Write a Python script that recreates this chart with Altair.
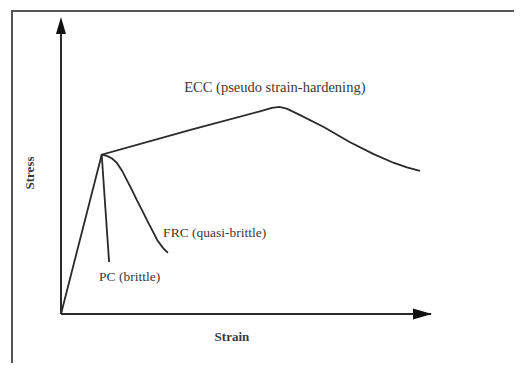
import altair as alt
import pandas as pd

# Curve data (arbitrary strain / stress units)
ecc_strain = [0.0, 1.1, 3.5, 5.4, 5.7, 5.9, 6.1, 6.45, 7.1, 7.8, 8.45, 9.0, 9.35, 9.7]
ecc_stress = [0.0, 5.4, 6.24, 6.88, 6.99, 7.02, 6.96, 6.75, 6.34, 5.83, 5.42, 5.12, 4.97, 4.85]

frc_strain = [1.1, 1.24, 1.38, 1.51, 1.65, 1.78, 1.92, 2.05, 2.19, 2.32, 2.46, 2.6, 2.75, 2.89]
frc_stress = [5.4, 5.36, 5.27, 5.12, 4.86, 4.54, 4.2, 3.86, 3.52, 3.19, 2.85, 2.51, 2.25, 2.07]

pc_strain = [1.1, 1.3]
pc_stress = [5.4, 1.76]

label_text = ["ECC (pseudo strain-hardening)", "FRC (quasi-brittle)", "PC (brittle)"]
label_strain = [5.78, 2.76, 1.03]
label_stress = [7.66, 2.75, 1.25]
label_align = ["center", "left", "left"]
label_size = [14.5, 13.5, 13.5]

x_title = "Strain"
y_title = "Stress"
x_axis_end = 10.0
y_axis_end = 9.9
x_arrow_pos = 9.77
y_arrow_pos = 9.78

W, H = 506, 355
xs = alt.Scale(domain=[-53 / 37, 453 / 37], nice=False, zero=False)
ys = alt.Scale(domain=[-49 / 29.5, 306 / 29.5], nice=False, zero=False)

LINE = "#2a2a2a"
TEXT = "#3a3a3a"
FONT = "Liberation Serif"


def curve(name, sx, sy):
    df = pd.DataFrame({"strain": sx, "stress": sy, "i": list(range(len(sx))), "curve": name})
    return alt.Chart(df).mark_line(color=LINE, strokeWidth=1.8).encode(
        x=alt.X("strain:Q", scale=xs, axis=None),
        y=alt.Y("stress:Q", scale=ys, axis=None),
        order="i:Q",
    )


ecc = curve("ECC", ecc_strain, ecc_stress)
frc = curve("FRC", frc_strain, frc_stress)
pc = curve("PC", pc_strain, pc_stress)

axes_df = pd.DataFrame({
    "x0": [0.0, 0.0], "y0": [0.0, 0.0],
    "x1": [x_axis_end, 0.0], "y1": [0.0, y_axis_end],
})
axes = alt.Chart(axes_df).mark_rule(color=LINE, strokeWidth=2).encode(
    x=alt.X("x0:Q", scale=xs, axis=None),
    y=alt.Y("y0:Q", scale=ys, axis=None),
    x2="x1:Q", y2="y1:Q",
)

up_arrow = alt.Chart(pd.DataFrame({"x": [0.0], "y": [y_arrow_pos]})).mark_point(
    shape="M0,-1L0.59,1L-0.59,1Z", size=289, filled=True, color="#111", opacity=1,
).encode(x=alt.X("x:Q", scale=xs, axis=None), y=alt.Y("y:Q", scale=ys, axis=None))

right_arrow = alt.Chart(pd.DataFrame({"x": [x_arrow_pos], "y": [0.0]})).mark_point(
    shape="M1,0L-1,0.58L-1,-0.58Z", size=361, filled=True, color="#111", opacity=1,
).encode(x=alt.X("x:Q", scale=xs, axis=None), y=alt.Y("y:Q", scale=ys, axis=None))

labels = []
for t, x, y, a, s in zip(label_text, label_strain, label_stress, label_align, label_size):
    labels.append(
        alt.Chart(pd.DataFrame({"t": [t], "x": [x], "y": [y]})).mark_text(
            font=FONT, fontSize=s, color=TEXT, align=a, baseline="middle",
        ).encode(
            x=alt.X("x:Q", scale=xs, axis=None),
            y=alt.Y("y:Q", scale=ys, axis=None),
            text="t:N",
        )
    )

xt = alt.Chart(pd.DataFrame({"t": [x_title], "x": [4.62], "y": [-0.78]})).mark_text(
    font=FONT, fontSize=13, fontWeight="bold", color=TEXT, align="center", baseline="middle",
).encode(x=alt.X("x:Q", scale=xs, axis=None), y=alt.Y("y:Q", scale=ys, axis=None), text="t:N")

yt = alt.Chart(pd.DataFrame({"t": [y_title], "x": [-0.84], "y": [4.78]})).mark_text(
    font=FONT, fontSize=13, fontWeight="bold", color=TEXT, align="center", baseline="middle", angle=270,
).encode(x=alt.X("x:Q", scale=xs, axis=None), y=alt.Y("y:Q", scale=ys, axis=None), text="t:N")

# decorative frame (left and top edges of the figure box)
frame_left = alt.Chart(pd.DataFrame({"k": [0]})).mark_rule(color="#555", strokeWidth=2).encode(
    x=alt.value(4), y=alt.value(2), y2=alt.value(H)
)
frame_top = alt.Chart(pd.DataFrame({"k": [0]})).mark_rule(color="#555", strokeWidth=2).encode(
    x=alt.value(3), x2=alt.value(W), y=alt.value(3)
)

chart = alt.layer(
    frame_left, frame_top, axes, ecc, frc, pc, up_arrow, right_arrow, *labels, xt, yt
).properties(
    width=W, height=H, padding=0, autosize=alt.AutoSizeParams(type="none"),
    background="white",
).configure_view(stroke=None)

chart.save("out.html", embed_options={"renderer": "svg", "actions": False})
